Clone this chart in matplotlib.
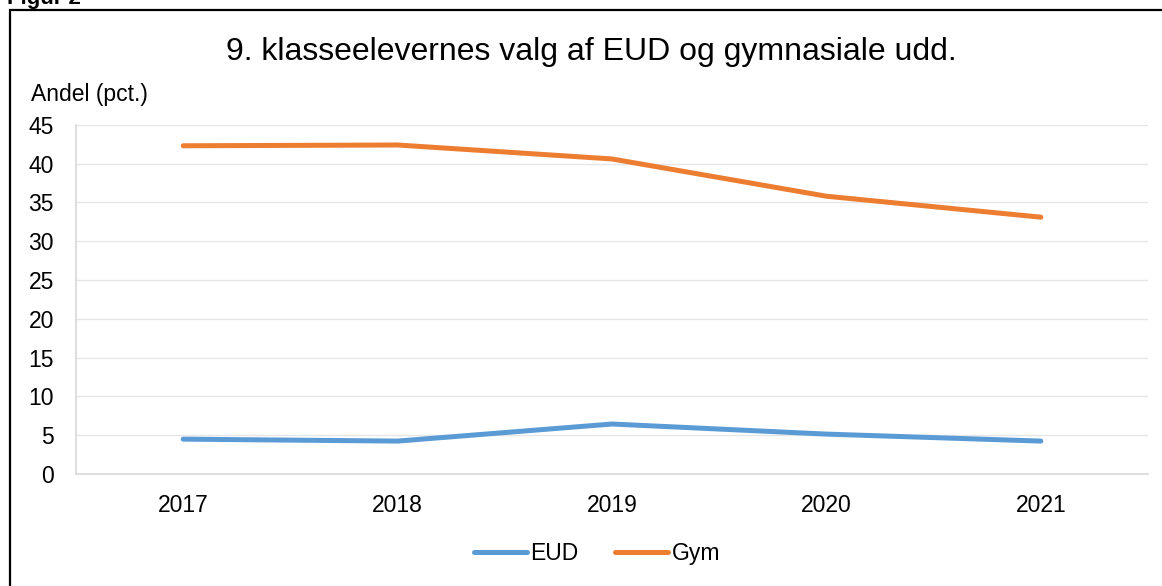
import matplotlib.pyplot as plt
from matplotlib.patches import Rectangle

plt.rcParams['font.family'] = ['Liberation Sans', 'DejaVu Sans']

years = ['2017', '2018', '2019', '2020', '2021']
eud = [4.5, 4.25, 6.45, 5.15, 4.25]
gym = [42.3, 42.4, 40.6, 35.8, 33.1]

fig = plt.figure(figsize=(11.62, 5.86), dpi=100)
ax = fig.add_axes([0.0654, 0.191, 0.9226, 0.596])

x = range(len(years))
ax.plot(x, eud, color='#5B9BD5', lw=3.6, solid_capstyle='round', label='EUD')
ax.plot(x, gym, color='#ED7D31', lw=3.6, solid_capstyle='round', label='Gym')

ax.set_xlim(-0.5, len(years) - 0.5)
ax.set_ylim(0, 45)
ax.set_yticks(range(0, 46, 5))
ax.set_xticks(list(x))
ax.set_xticklabels(years)
ax.tick_params(length=0, labelsize=16.5)
ax.tick_params(axis='y', pad=16)
ax.tick_params(axis='x', pad=14)
ax.grid(axis='y', color='#e6e6e6', lw=1)
ax.set_axisbelow(True)
for s in ['top', 'right']:
    ax.spines[s].set_visible(False)
for s in ['left', 'bottom']:
    ax.spines[s].set_color('#d9d9d9')
    ax.spines[s].set_linewidth(1.2)

fig.text(0.509, 0.912, '9. klasseelevernes valg af EUD og gymnasiale udd.',
         ha='center', va='center', fontsize=23)
fig.text(0.027, 0.838, 'Andel (pct.)', ha='left', va='center', fontsize=16.5)
fig.text(0.006, 0.993, 'Figur 2', ha='left', va='baseline', fontsize=16,
         fontweight='bold')

fig.legend(loc='center', bbox_to_anchor=(0.514, 0.056), ncol=2, frameon=False,
           fontsize=16.5, handlelength=2.3, handletextpad=0.15, columnspacing=1.6)

fig.add_artist(Rectangle((10 / 1162, -0.1), 1.2, 0.1 + 1 - 10 / 586,
                         transform=fig.transFigure, fill=False,
                         edgecolor='black', lw=1.6, clip_on=False))

fig.savefig('out.png', dpi=100)
